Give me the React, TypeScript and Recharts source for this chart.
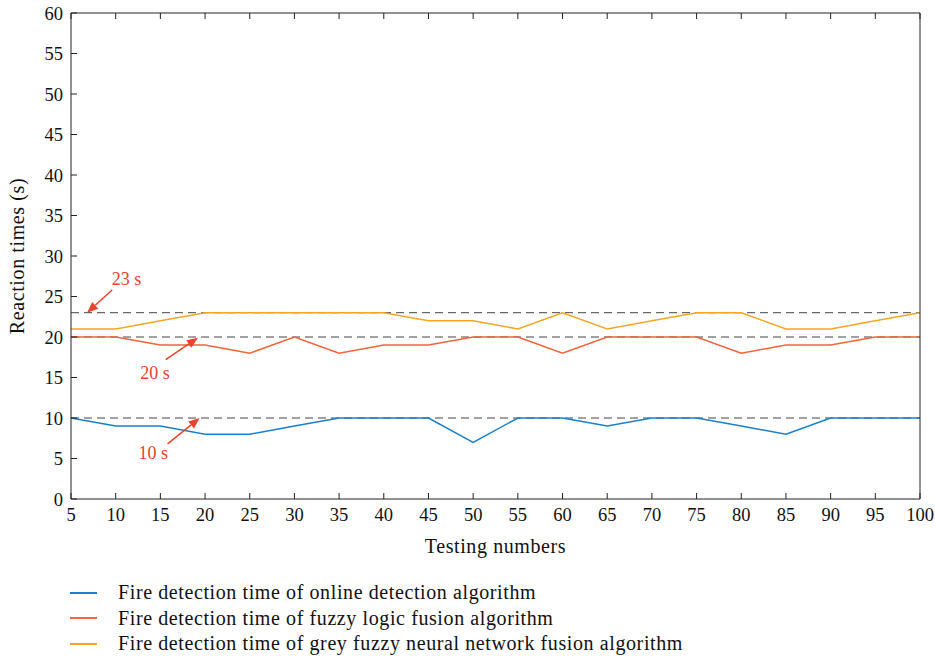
import { LineChart, Line, XAxis, YAxis, ReferenceLine, ReferenceDot, Label } from "recharts";

const testNumbers = [5, 10, 15, 20, 25, 30, 35, 40, 45, 50, 55, 60, 65, 70, 75, 80, 85, 90, 95, 100];
const onlineTimes = [10, 9, 9, 8, 8, 9, 10, 10, 10, 7, 10, 10, 9, 10, 10, 9, 8, 10, 10, 10];
const fuzzyTimes = [20, 20, 19, 19, 18, 20, 18, 19, 19, 20, 20, 18, 20, 20, 20, 18, 19, 19, 20, 20];
const greyTimes = [21, 21, 22, 23, 23, 23, 23, 23, 22, 22, 21, 23, 21, 22, 23, 23, 21, 21, 22, 23];

const xTicks = testNumbers;
const yTicks = [0, 5, 10, 15, 20, 25, 30, 35, 40, 45, 50, 55, 60];
const limitLines = [23, 20, 10];

// annotation arrows: [label, text position, arrow start, arrow tip] in data units
const notes = [
  { text: "23 s", tx: 11.2, ty: 27.1, x1: 9.6, y1: 25.8, x2: 6.8, y2: 23 },
  { text: "20 s", tx: 14.4, ty: 15.6, x1: 15.6, y1: 17.2, x2: 19.2, y2: 19.9 },
  { text: "10 s", tx: 14.2, ty: 5.7, x1: 15.8, y1: 6.8, x2: 19.4, y2: 10 },
];

const series = [
  { key: "online", name: "Fire detection time of online detection algorithm", color: "#1a7fcc" },
  { key: "fuzzy", name: "Fire detection time of fuzzy logic fusion algorithm", color: "#f0653a" },
  { key: "grey", name: "Fire detection time of grey fuzzy neural network fusion algorithm", color: "#f5a623" },
];

const data = testNumbers.map((n, i) => ({
  n,
  online: onlineTimes[i],
  fuzzy: fuzzyTimes[i],
  grey: greyTimes[i],
}));

const FONT = '"Liberation Serif", "DejaVu Serif", serif';
const RED = "#e8432c";
const AXIS = "#222";

const Arrow = (props: any) => {
  const { x1, y1, x2, y2 } = props;
  if (x1 == null) return null;
  const a = Math.atan2(y2 - y1, x2 - x1);
  const len = 11;
  const w = 4.5;
  const bx = x2 - len * Math.cos(a);
  const by = y2 - len * Math.sin(a);
  const px = -Math.sin(a) * w;
  const py = Math.cos(a) * w;
  return (
    <g>
      <line x1={x1} y1={y1} x2={bx} y2={by} stroke={RED} strokeWidth={1.5} />
      <polygon points={`${x2},${y2} ${bx + px},${by + py} ${bx - px},${by - py}`} fill={RED} />
    </g>
  );
};

export default function App() {
  const tickStyle = { fontFamily: FONT, fontSize: 18.5, fill: "#111" };
  return (
    <div style={{ position: "absolute", left: 0, top: 0, width: 935, height: 658, background: "#fff" }}>
      <LineChart width={935} height={560} data={data} margin={{ top: 12, right: 14, left: 0, bottom: 0 }}>
        <XAxis
          dataKey="n"
          type="number"
          domain={[5, 100]}
          ticks={xTicks}
          interval={0}
          stroke={AXIS}
          tickSize={-6}
          tickMargin={15}
          tick={tickStyle}
          height={61}
        >
          <Label
            content={({ viewBox }: any) => (
              <text x={viewBox.x + viewBox.width / 2} y={553} textAnchor="middle" fontFamily={FONT} fontSize={20} letterSpacing={0.6} fill="#111">
                Testing numbers
              </text>
            )}
          />
        </XAxis>
        <XAxis
          xAxisId="top"
          dataKey="n"
          type="number"
          orientation="top"
          domain={[5, 100]}
          ticks={xTicks}
          interval={0}
          stroke={AXIS}
          tickSize={-6}
          tickFormatter={() => ""}
          height={1}
        />
        <YAxis
          domain={[0, 60]}
          ticks={yTicks}
          interval={0}
          stroke={AXIS}
          tickSize={-6}
          tickMargin={14}
          tick={tickStyle}
          width={71}
        >
          <Label
            content={({ viewBox }: any) => {
              const cy = viewBox.y + viewBox.height / 2;
              return (
                <text x={24} y={cy} transform={`rotate(-90 24 ${cy})`} textAnchor="middle" fontFamily={FONT} fontSize={20} letterSpacing={0.6} fill="#111">
                  Reaction times (s)
                </text>
              );
            }}
          />
        </YAxis>
        <YAxis
          yAxisId="right"
          orientation="right"
          domain={[0, 60]}
          ticks={yTicks}
          interval={0}
          stroke={AXIS}
          tickSize={-6}
          tickFormatter={() => ""}
          width={1}
        />
        {limitLines.map((v) => (
          <ReferenceLine key={v} y={v} stroke="#444" strokeDasharray="8 5" strokeWidth={1} />
        ))}
        {series.map((s) => (
          <Line
            key={s.key}
            type="linear"
            dataKey={s.key}
            name={s.name}
            stroke={s.color}
            strokeWidth={1.5}
            dot={false}
            isAnimationActive={false}
          />
        ))}
        {notes.map((m) => (
          <ReferenceLine
            key={m.text + "-arrow"}
            segment={[{ x: m.x1, y: m.y1 }, { x: m.x2, y: m.y2 }]}
            shape={Arrow}
          />
        ))}
        {notes.map((m) => (
          <ReferenceDot
            key={m.text}
            x={m.tx}
            y={m.ty}
            r={0}
            shape={(p: any) => (
              <text x={p.cx} y={p.cy} dy={6} textAnchor="middle" fontFamily={FONT} fontSize={18} fill={RED}>
                {m.text}
              </text>
            )}
          />
        ))}
      </LineChart>
      <div style={{ position: "absolute", left: 70, top: 580, fontFamily: FONT, fontSize: 20, letterSpacing: 0.6, color: "#111" }}>
        {series.map((s) => (
          <div key={s.key} style={{ display: "flex", alignItems: "center", height: 25.5 }}>
            <div style={{ width: 27, height: 0, borderTop: `2px solid ${s.color}`, marginRight: 21 }} />
            <span>{s.name}</span>
          </div>
        ))}
      </div>
    </div>
  );
}
